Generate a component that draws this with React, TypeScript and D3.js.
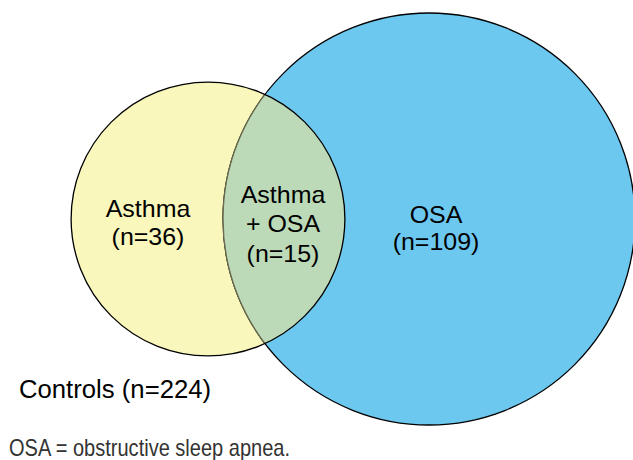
import React from "react";
import * as d3 from "d3";

const setNames = ["Asthma", "OSA"];
const setTotals = [51, 124]; // Asthma total (36+15), OSA total (109+15)
const regionLabels = [["Asthma", "(n=36)"], ["Asthma", "+ OSA", "(n=15)"], ["OSA", "(n=109)"]];
const controlsLabel = "Controls (n=224)";
const footnote = "OSA = obstructive sleep apnea.";

const W = 633, H = 460;

export default function App() {
  const rScale = d3.scalePow().exponent(0.46).domain([0, 124]).range([0, 206]);
  const rA = rScale(setTotals[0]);
  const rB = rScale(setTotals[1]);
  const cy = 219;
  const cxA = 208;
  const cxB = 429;

  const arcPath = (cx: number, r: number) => {
    const p = d3.path();
    p.arc(cx, cy, r, 0, Math.PI * 2);
    p.closePath();
    return p.toString();
  };
  const pathA = arcPath(cxA, rA);
  const pathB = arcPath(cxB, rB);

  const sx = 1.04;
  const lbl = (lines: string[], x: number, y0: number, dy: number, key: string) => (
    <g key={key} transform={`translate(${x},0) scale(${sx},1)`}>
      {lines.map((t, i) => (
        <text key={i} x={0} y={y0 + i * dy} textAnchor="middle" fontSize={24} fill="#000"
          fontFamily="Liberation Sans, Arial, sans-serif">{t}</text>
      ))}
    </g>
  );

  return (
    <svg width={W} height={H} style={{ position: "absolute", left: 0, top: 0, background: "#fff" }}>
      <defs>
        <clipPath id="clipA"><path d={pathA} /></clipPath>
      </defs>
      <path d={pathA} fill="#F9F7BB" stroke="none" />
      <path d={pathB} fill="#6DC8F0" stroke="#000" strokeWidth={1.3} />
      <path d={pathB} fill="#BDDAB8" stroke="#6b6b4e" strokeWidth={1.3} clipPath="url(#clipA)" />
      <path d={pathA} fill="none" stroke="#000" strokeWidth={1.3} />
      {lbl(regionLabels[0], 148, 217, 28.5, "a")}
      {lbl(regionLabels[1], 283, 203, 29.5, "ab")}
      {lbl(regionLabels[2], 436, 223, 27.5, "b")}
      <text x={19} y={398} fontSize={25.7} fill="#000" fontFamily="Liberation Sans, Arial, sans-serif">{controlsLabel}</text>
      <text x={9} y={456} fontSize={24} fill="#333" textLength={281} lengthAdjust="spacingAndGlyphs"
        fontFamily="Liberation Sans, Arial, sans-serif">{footnote}</text>
      <title>{setNames.join(" / ")}</title>
    </svg>
  );
}
